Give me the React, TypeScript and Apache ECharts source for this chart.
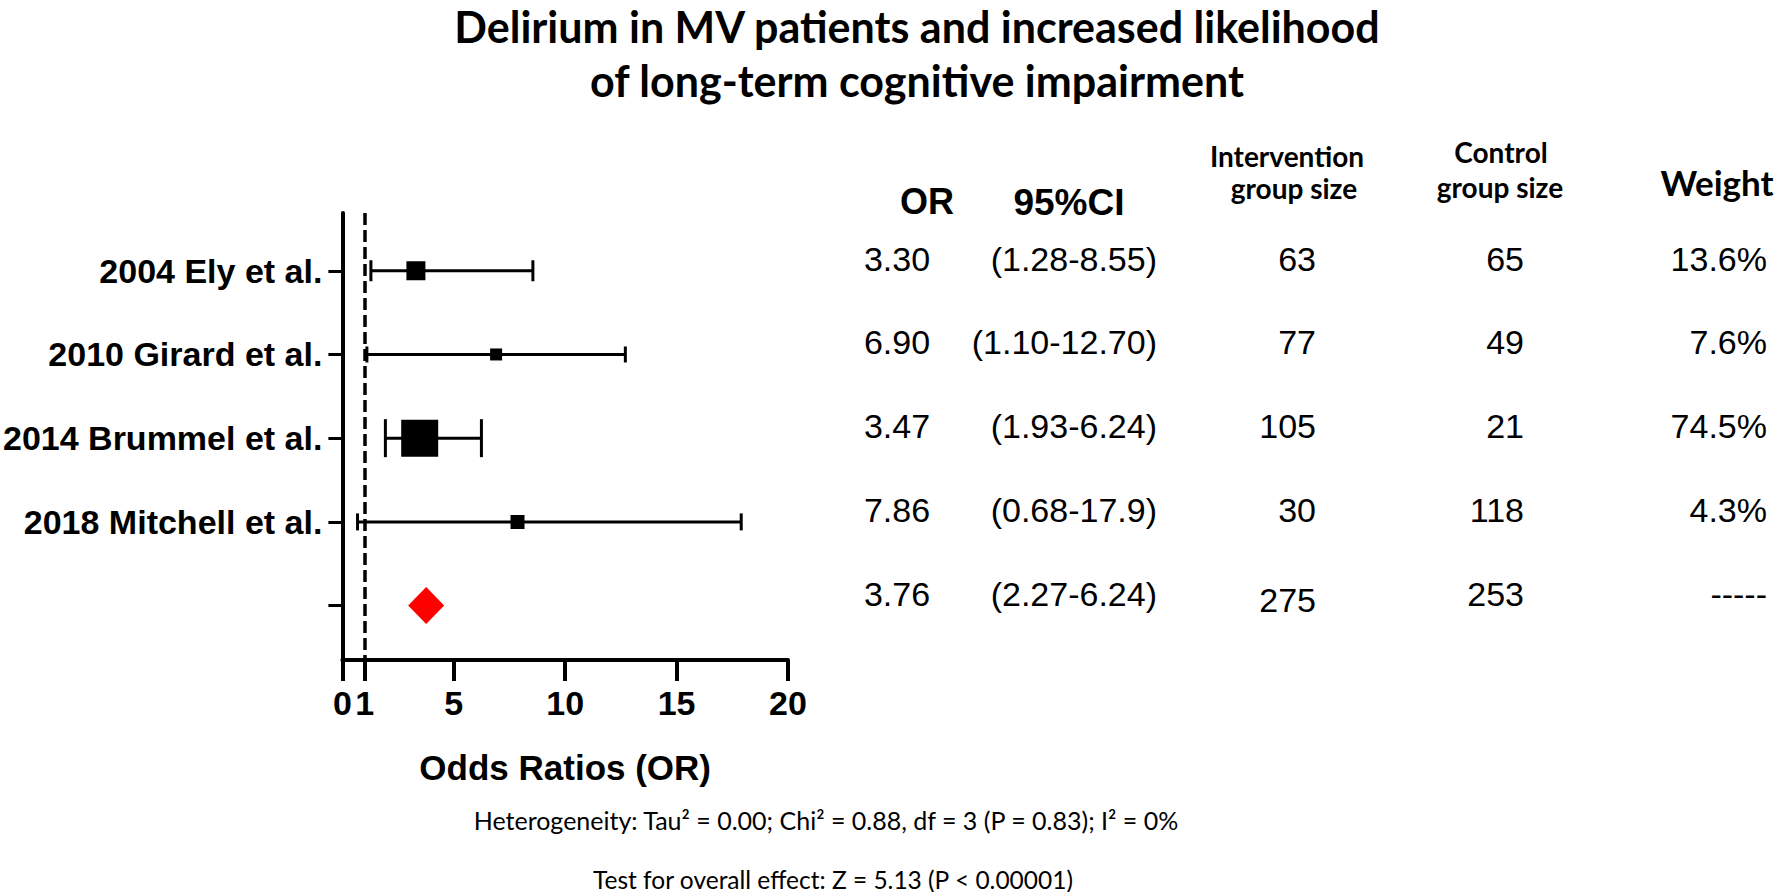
import React, { useEffect, useRef } from 'react';
import * as echarts from 'echarts';

// ---- data ----
const studies = ['2004 Ely et al.', '2010 Girard et al.', '2014 Brummel et al.', '2018 Mitchell et al.'];
const oddsRatios = [3.30, 6.90, 3.47, 7.86];
const ciLower = [1.28, 1.10, 1.93, 0.68];
const ciUpper = [8.55, 12.70, 6.24, 17.9];
const pooledOR = 3.76;
const orLabels = ['3.30', '6.90', '3.47', '7.86', '3.76'];
const ciLabels = ['(1.28-8.55)', '(1.10-12.70)', '(1.93-6.24)', '(0.68-17.9)', '(2.27-6.24)'];
const interventionSizes = ['63', '77', '105', '30', '275'];
const controlSizes = ['65', '49', '21', '118', '253'];
const weights = ['13.6%', '7.6%', '74.5%', '4.3%', '-----'];
const xTicks = [0, 1, 5, 10, 15, 20];
const yTicks = [1, 2, 3, 4, 5];

// ---- styling (not data) ----
const markerSizes = [19, 12, 37, 14];
const capHeights = [21, 16, 38, 17];

const ARIAL = "'Liberation Sans', Arial, Helvetica, sans-serif";
const CALIBRI = "Lato, 'Open Sans', sans-serif";

function txt(text: string, x: number, y: number, font: string, align = 'center', lineHeight?: number) {
  const style: any = {
    text,
    font,
    fill: '#000',
    align,
    textAlign: align,
    verticalAlign: 'middle',
    textVerticalAlign: 'middle',
  };
  if (lineHeight) style.lineHeight = lineHeight;
  return { type: 'text', x, y, style };
}

export default function App() {
  const ref = useRef<HTMLDivElement>(null);
  useEffect(() => {
    if (!ref.current) return;
    const chart = echarts.init(ref.current, undefined, { renderer: 'svg' });

    const forestData = studies.map((_, i) => [ciLower[i], ciUpper[i], oddsRatios[i], i + 1]);
    const tableData = orLabels.map((_, i) => [0, i + 1]);

    const option: any = {
      animation: false,
      backgroundColor: '#fff',
      grid: { left: 341, top: 213, width: 447, height: 447, containLabel: false },
      xAxis: {
        type: 'value',
        min: 0,
        max: 20,
        name: 'Odds Ratios (OR)',
        nameLocation: 'middle',
        nameGap: 90,
        nameTextStyle: { fontFamily: ARIAL, fontWeight: 'bold', fontSize: 35, color: '#000' },
        axisLine: { show: true, onZero: false, lineStyle: { color: '#000', width: 4 } },
        axisTick: { show: true, customValues: xTicks, length: 21, lineStyle: { color: '#000', width: 4 } },
        axisLabel: {
          customValues: xTicks,
          margin: 26,
          fontFamily: ARIAL,
          fontWeight: 'bold',
          fontSize: 34,
          color: '#000',
        },
        splitLine: { show: false },
      },
      yAxis: {
        type: 'value',
        min: 0.31,
        max: 5.65,
        inverse: true,
        axisLine: { show: true, onZero: false, lineStyle: { color: '#000', width: 4 } },
        axisTick: { show: true, customValues: yTicks, length: 14, lineStyle: { color: '#000', width: 3 } },
        axisLabel: {
          customValues: yTicks,
          margin: 20,
          formatter: (v: number) => studies[Math.round(v) - 1] || '',
          fontFamily: ARIAL,
          fontWeight: 'bold',
          fontSize: 34,
          color: '#000',
        },
        splitLine: { show: false },
      },
      series: [
        {
          type: 'custom',
          clip: false,
          data: forestData,
          encode: { x: [0, 1, 2], y: 3 },
          markLine: {
            silent: true,
            symbol: 'none',
            label: { show: false },
            lineStyle: { color: '#000', width: 3.5, type: [12, 5] },
            data: [{ xAxis: 1 }],
          },
          renderItem: (params: any, api: any) => {
            const row = api.value(3);
            const lo = api.coord([api.value(0), row]);
            const hi = api.coord([api.value(1), row]);
            const c = api.coord([api.value(2), row]);
            const i = params.dataIndex;
            const sz = markerSizes[i];
            const cap = capHeights[i] / 2;
            const ls = { stroke: '#000', lineWidth: 3 };
            return {
              type: 'group',
              children: [
                { type: 'line', shape: { x1: lo[0], y1: lo[1], x2: hi[0], y2: hi[1] }, style: ls },
                { type: 'line', shape: { x1: lo[0], y1: lo[1] - cap, x2: lo[0], y2: lo[1] + cap }, style: ls },
                { type: 'line', shape: { x1: hi[0], y1: hi[1] - cap, x2: hi[0], y2: hi[1] + cap }, style: ls },
                { type: 'rect', shape: { x: c[0] - sz / 2, y: c[1] - sz / 2, width: sz, height: sz }, style: { fill: '#000' } },
              ],
            };
          },
        },
        {
          type: 'scatter',
          data: [[pooledOR, 5]],
          symbol: 'diamond',
          symbolSize: [36, 37],
          itemStyle: { color: '#ff0000', opacity: 1 },
          silent: true,
        },
        {
          type: 'custom',
          clip: false,
          silent: true,
          data: tableData,
          renderItem: (params: any, api: any) => {
            const i = params.dataIndex;
            const y = api.coord([0, api.value(1)])[1] - 12;
            const f = `34px ${ARIAL}`;
            return {
              type: 'group',
              children: [
                txt(orLabels[i], 897, y, f, 'center'),
                txt(ciLabels[i], 1157, y, f, 'right'),
                txt(interventionSizes[i], 1316, i === 4 ? y + 6 : y, f, 'right'),
                txt(controlSizes[i], 1524, y, f, 'right'),
                txt(weights[i], 1767, y, f, 'right'),
              ],
            };
          },
        },
      ],
      graphic: [
        txt('Delirium in MV patients and increased likelihood', 917, 26, `bold 43px ${CALIBRI}`, 'center', 44),
        txt('of long-term cognitive impairment', 917, 80, `bold 43px ${CALIBRI}`, 'center', 44),
        txt('OR', 927, 201, `bold 36px ${ARIAL}`),
        txt('95%CI', 1069, 202, `bold 37px ${ARIAL}`),
        txt('Intervention', 1287, 156, `bold 28px ${CALIBRI}`),
        txt('group size', 1294, 188, `bold 28px ${CALIBRI}`),
        txt('Control', 1501, 152, `bold 28px ${CALIBRI}`),
        txt('group size', 1500, 187, `bold 28px ${CALIBRI}`),
        txt('Weight', 1717, 182, `bold 35px ${CALIBRI}`),
        txt('Heterogeneity: Tau² = 0.00; Chi² = 0.88, df = 3 (P = 0.83); I² = 0%', 826, 820, `25px ${CALIBRI}`),
        txt('Test for overall effect: Z = 5.13 (P < 0.00001)', 833, 879, `24.5px ${CALIBRI}`),
      ],
    };
    chart.setOption(option);
    return () => chart.dispose();
  }, []);
  return (
    <div
      ref={ref}
      style={{ position: 'fixed', left: 0, top: 0, width: 1776, height: 892, background: '#fff' }}
    />
  );
}
